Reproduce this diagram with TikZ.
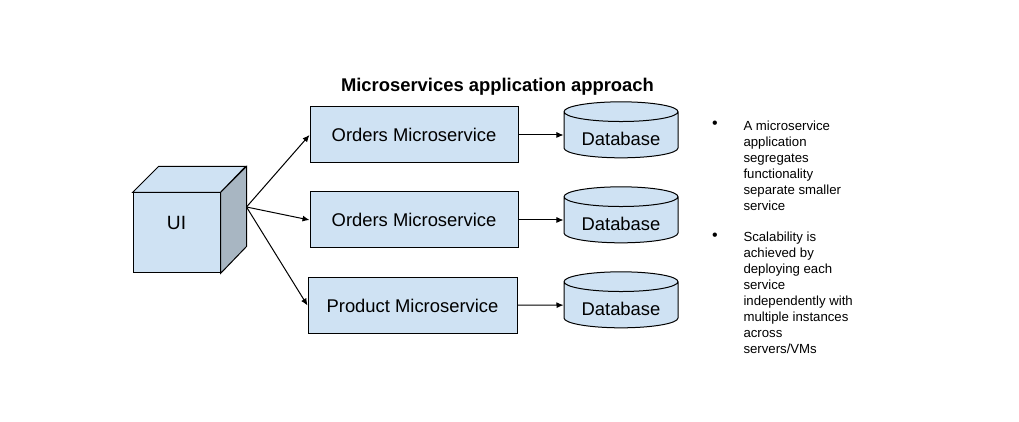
\documentclass[tikz,border=0pt]{standalone}
\usepackage{fontspec}
\setmainfont{Liberation Sans}
\usetikzlibrary{shapes.geometric,arrows.meta,calc}
\definecolor{paleblue}{HTML}{CFE2F3}
\definecolor{sidegray}{HTML}{A8B6C2}

\begin{document}
\begin{tikzpicture}[x=0.5pt,y=-0.5pt,line width=0.5pt]
    % `service' is used for the microservice boxes.
    % `database' is used for the cylinders on the right.
    % `note' is used for the bullet texts.
    \tikzstyle{service} = [draw,fill=paleblue,minimum width=104pt,minimum height=28pt,inner sep=0pt,font=\fontsize{9.2}{11}\selectfont]
    \tikzstyle{database} = [draw,fill=paleblue,cylinder,shape border rotate=90,aspect=0.25,minimum width=57pt,minimum height=28pt,inner sep=0pt,font=\fontsize{9.2}{11}\selectfont]
    \tikzstyle{note} = [anchor=north west,align=left,inner sep=0pt,font=\fontsize{6.6}{8}\selectfont]
    \tikzstyle{link} = [-{Latex[length=3.5pt,width=3pt]},line width=0.5pt]
    %
    \useasboundingbox (0,0) rectangle (1019,422);
    \node[font=\bfseries\fontsize{9.2}{11}\selectfont,anchor=base] (title) at (497.5,92) {Microservices application approach};

    % UI cube: front face is the node, top and side drawn from its corners.
    \node[draw,fill=paleblue,minimum width=43.5pt,minimum height=40pt,inner sep=0pt,font=\fontsize{9.6}{11}\selectfont] (ui) at (176.5,233) {\raisebox{1.5pt}[0pt][0pt]{UI}};
    \draw[fill=paleblue] (ui.north west) -- ++(26,-26) -- ++(87,0) -- (ui.north east) -- cycle;
    \draw[fill=sidegray] (ui.north east) -- ++(26,-26) -- ++(0,80) -- (ui.south east) -- cycle;
    \coordinate (fan) at (246.5,207);

    \node[service] (orders1) at (414,135) {Orders Microservice};
    \node[service] (orders2) at (414,220) {Orders Microservice};
    \node[service,minimum width=104.5pt] (product) at (412.5,305.5) {Product Microservice};

    \node[database] (db1) at (621,135) {\raisebox{-5.3pt}[0pt][0pt]{Database}};
    \node[database] (db2) at (621,220) {\raisebox{-5.3pt}[0pt][0pt]{Database}};
    \node[database] (db3) at (621,305) {\raisebox{-5.3pt}[0pt][0pt]{Database}};

    % Draw lines.
    \draw[link] (fan) -- (orders1.west);
    \draw[link] (fan) -- (orders2.west);
    \draw[link] (fan) -- (product.west);
    \draw[link] (orders1) -- (db1);
    \draw[link] (orders2) -- (db2);
    \draw[link] (product) -- (db3);

    % Bullet notes.
    \node[font=\fontsize{8}{8}\selectfont] (dot1) at (715,125) {\textbullet};
    \node[note] (note1) at (743,120) {A microservice\\application\\segregates\\functionality\\separate smaller\\service};
    \node[font=\fontsize{8}{8}\selectfont] (dot2) at (715,237) {\textbullet};
    \node[note] (note2) at (743,231) {Scalability is\\achieved by\\deploying each\\service\\independently with\\multiple instances\\across\\servers/VMs};
\end{tikzpicture}
\end{document}
